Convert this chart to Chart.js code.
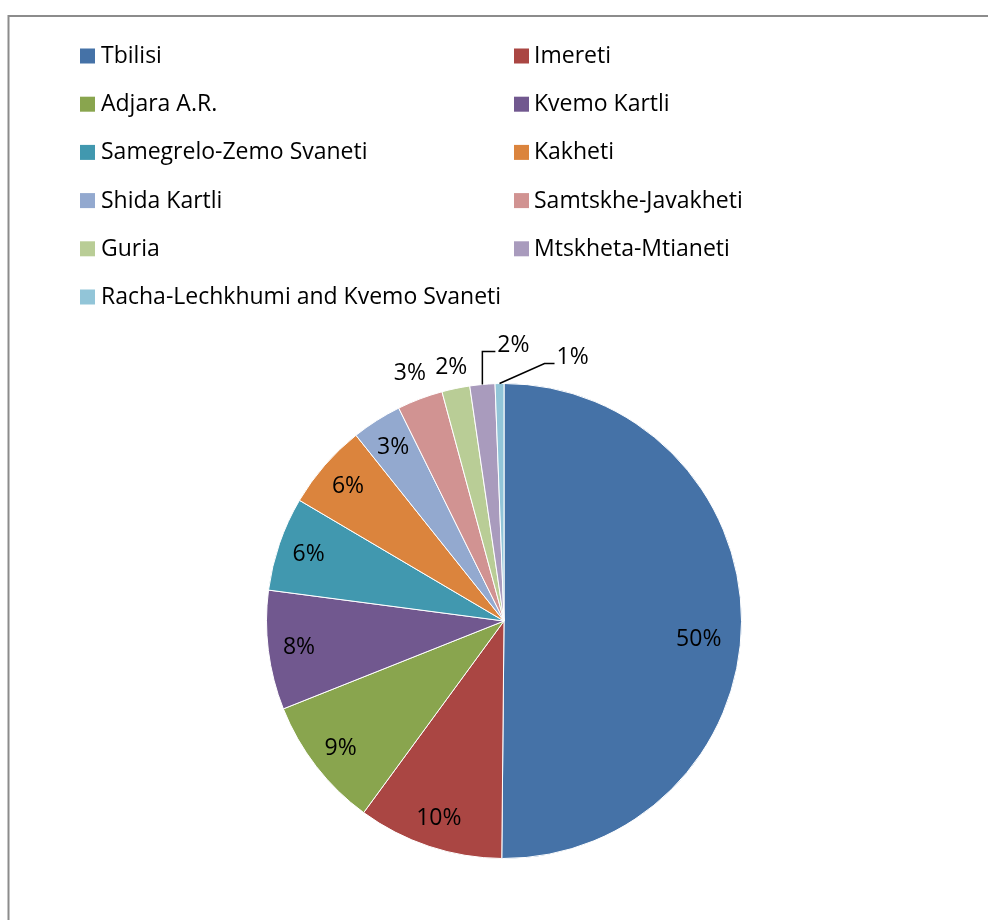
<!DOCTYPE html>
<html>
<head>
<meta charset="utf-8">
<script src="https://cdn.jsdelivr.net/npm/chart.js@4/dist/chart.umd.min.js"></script>
<style>
  html, body { margin: 0; padding: 0; background: #ffffff; }
  #wrap { width: 988px; height: 920px; position: relative; }
</style>
</head>
<body>
<div id="wrap"><canvas id="c" width="988" height="920"></canvas></div>
<script>
const regions = [
  "Tbilisi", "Imereti", "Adjara A.R.", "Kvemo Kartli", "Samegrelo-Zemo Svaneti",
  "Kakheti", "Shida Kartli", "Samtskhe-Javakheti", "Guria", "Mtskheta-Mtianeti",
  "Racha-Lechkhumi and Kvemo Svaneti"
];
const shares = [50.1, 9.9, 8.9, 8.1, 6.4, 5.8, 3.4, 3.1, 1.9, 1.7, 0.6];
const sliceColors = [
  "#4572A7", "#AA4643", "#89A54E", "#71588F", "#4198AF",
  "#DB843D", "#93A9CF", "#D19392", "#B9CD96", "#A99BBD", "#92C5D8"
];
// label placement style per slice: inside, outside, or with leader line
const labelModes = ["in", "in", "in", "in", "in", "in", "in", "out", "out", "leaderA", "leaderB"];

const FONT = "23px 'Open Sans', Lato, sans-serif";

const framePlugin = {
  id: "frame",
  beforeDraw(chart) {
    const ctx = chart.ctx;
    ctx.save();
    ctx.strokeStyle = "#8c8c8c";
    ctx.lineWidth = 2;
    ctx.beginPath();
    ctx.moveTo(8.5, 920);
    ctx.lineTo(8.5, 16);
    ctx.lineTo(988, 16);
    ctx.stroke();
    ctx.restore();
  }
};

const legendPlugin = {
  id: "gridLegend",
  afterDraw(chart) {
    const ctx = chart.ctx;
    ctx.save();
    ctx.font = FONT;
    ctx.textBaseline = "middle";
    ctx.textAlign = "left";
    const colX = [80, 514];
    const textX = [101, 534];
    const y0 = 55.5, dy = 48.2;
    regions.forEach((name, i) => {
      const col = i % 2, row = Math.floor(i / 2);
      const y = y0 + row * dy;
      ctx.fillStyle = sliceColors[i];
      ctx.fillRect(colX[col], y - 7, 15, 15);
      ctx.fillStyle = "#000000";
      ctx.fillText(name, textX[col], y + 1);
    });
    ctx.restore();
  }
};

const labelPlugin = {
  id: "pctLabels",
  afterDatasetsDraw(chart) {
    const ctx = chart.ctx;
    const meta = chart.getDatasetMeta(0);
    const data = chart.data.datasets[0].data;
    const total = data.reduce((a, b) => a + b, 0);
    ctx.save();
    ctx.font = FONT;
    ctx.fillStyle = "#000000";
    ctx.strokeStyle = "#000000";
    ctx.lineWidth = 1.5;
    ctx.textBaseline = "middle";
    meta.data.forEach((arc, i) => {
      const p = arc.getProps(["x", "y", "startAngle", "endAngle", "outerRadius"], true);
      const a = (p.startAngle + p.endAngle) / 2;
      const r = p.outerRadius;
      const txt = Math.round(data[i] / total * 100) + "%";
      const mode = labelModes[i];
      if (mode === "in") {
        ctx.textAlign = "center";
        const f = i === 0 ? 0.82 : 0.87;
        let lx = p.x + Math.cos(a) * r * f;
        let ly = p.y + Math.sin(a) * r * f;
        if (i === 0) ly += 17;
        ctx.fillText(txt, lx, ly + 1);
      } else if (mode === "out") {
        ctx.textAlign = "center";
        const f = i === 7 ? 1.12 : 1.095;
        ctx.fillText(txt, p.x + Math.cos(a) * r * f, p.y + Math.sin(a) * r * f + 1);
      } else {
        const sx = p.x + Math.cos(a) * r;
        const sy = p.y + Math.sin(a) * r;
        let ex, ey, hx;
        if (mode === "leaderA") {
          ex = sx; ey = sy - 33; hx = ex + 13;
        } else {
          ex = sx + 45; ey = sy - 20; hx = ex + 10;
        }
        ctx.beginPath();
        ctx.moveTo(sx, sy);
        ctx.lineTo(ex, ey);
        ctx.lineTo(hx, ey);
        ctx.stroke();
        ctx.textAlign = "left";
        ctx.fillText(txt, hx + 2, ey - 6);
      }
    });
    ctx.restore();
  }
};

new Chart(document.getElementById("c"), {
  type: "pie",
  data: {
    labels: regions,
    datasets: [{
      data: shares,
      backgroundColor: sliceColors,
      borderColor: "#ffffff",
      borderWidth: 1
    }]
  },
  options: {
    responsive: false,
    animation: false,
    layout: { padding: { left: 266, right: 246, top: 383, bottom: 61 } },
    plugins: {
      legend: { display: false },
      tooltip: { enabled: false },
      title: { display: false }
    }
  },
  plugins: [framePlugin, legendPlugin, labelPlugin]
});
</script>
</body>
</html>
